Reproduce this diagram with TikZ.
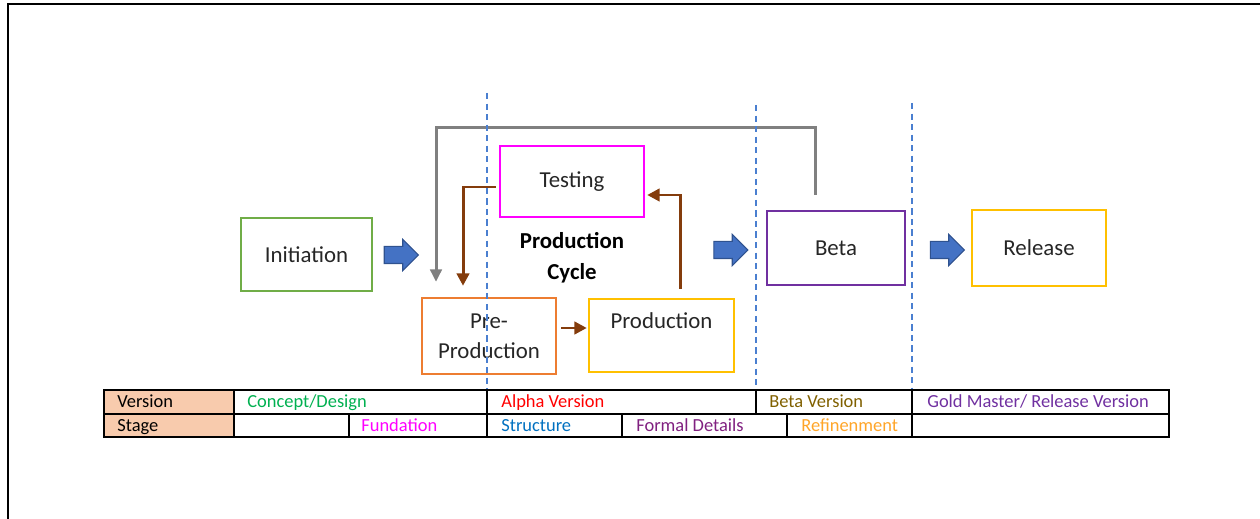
\documentclass[tikz,border=0pt]{standalone}
\usepackage{fontspec}
\setmainfont{Carlito}
\usetikzlibrary{calc,shapes.arrows,arrows.meta}
\definecolor{initgreen}{HTML}{70AD47}
\definecolor{testpink}{HTML}{FF00FF}
\definecolor{preorange}{HTML}{ED7D31}
\definecolor{prodgold}{HTML}{FFC000}
\definecolor{betapurple}{HTML}{7030A0}
\definecolor{loopbrown}{HTML}{843C0C}
\definecolor{loopgray}{HTML}{808080}
\definecolor{flowblue}{HTML}{4472C4}
\definecolor{flowedge}{HTML}{2F528F}
\definecolor{divblue}{HTML}{4A7FD0}
\definecolor{peach}{HTML}{F8CBAD}
\definecolor{txtgray}{HTML}{262626}

\begin{document}
\begin{tikzpicture}[x=0.02cm,y=-0.02cm,
  phase/.style={draw,line width=1.4pt,inner sep=0pt,text=txtgray,align=center,
    font=\fontsize{13}{17}\selectfont},
  flow/.style={single arrow,draw=flowedge,fill=flowblue,line width=0.6pt,
    inner xsep=0pt,inner ysep=0.16cm,text height=0pt,text depth=0pt,
    minimum height=0.68cm,single arrow head extend=0.14cm},
  brownloop/.style={draw=loopbrown,line width=1.7pt,-{Triangle[length=7pt,width=7pt]}},
  grayloop/.style={draw=loopgray,line width=1.7pt,-{Triangle[length=7pt,width=6.5pt]}},
  divider/.style={draw=divblue,line width=0.6pt,dash pattern=on 3.5pt off 2.5pt},
  tabline/.style={draw=black,line width=0.6pt},
  cell/.style={anchor=base west,inner sep=0pt,font=\fontsize{10.5}{12}\selectfont}]
  \useasboundingbox (0,0) rectangle (1260,519);
  % frame
  \draw[line width=1.2pt] (8,519) -- (8,4) -- (1260,4);

  % stages
  \draw(306.5,254.5) node[phase,draw=initgreen,minimum width=2.62cm,minimum height=1.46cm] (Init) {Initiation};
  \draw(572,181.5) node[phase,draw=testpink,minimum width=2.88cm,minimum height=1.42cm] (Testing) {Testing};
  \draw(489,336) node[phase,draw=preorange,minimum width=2.68cm,minimum height=1.52cm] (PreProd) {Pre-\\Production};
  \draw(661.5,335.5) node[phase,draw=prodgold,minimum width=2.9cm,minimum height=1.46cm] (Production) {Production\\~};
  \draw(836,248) node[phase,draw=betapurple,minimum width=2.76cm,minimum height=1.48cm] (Beta) {Beta};
  \draw(1039,248) node[phase,draw=prodgold,minimum width=2.68cm,minimum height=1.52cm] (Release) {Release};
  \draw(572,258) node[align=center,font=\bfseries\fontsize{13}{17.6}\selectfont] (Cycle) {Production\\Cycle};

  % block arrows
  \draw(397,255) node[flow] (FlowA) {};
  \draw(726.5,250) node[flow] (FlowB) {};
  \draw(943,250) node[flow] (FlowC) {};

  % loops
  \draw[grayloop] ($(Beta.north)+(-21,-15)$) |- (436,128) -- ($(PreProd.north)+(-53,-15)$);
  \draw[brownloop] ($(Testing.west)+(-3,5.5)$) -| ($(PreProd.north)+(-26,-11)$);
  \draw[brownloop] ($(Production.north)+(18.5,-9)$) |- ($(Testing.east)+(2,13.5)$);
  \draw[brownloop] ($(PreProd.east)+(4,-8)$) -- ($(Production.west)+(-1,-7.5)$);

  % phase dividers
  \foreach \x/\y in {487/93,756/105,912/103}
    \draw[divider] (\x,\y) -- (\x,390);

  % table
  \fill[peach] (104,390) rectangle (234,437);
  \draw[tabline] (104,390) rectangle (1169,437);
  \draw[tabline] (104,414) -- (1169,414);
  \foreach \x in {234,487,756,912}
    \draw[tabline] (\x,390) -- (\x,414);
  \foreach \x in {234,349,487,622,787,912}
    \draw[tabline] (\x,414) -- (\x,437);
  \draw(117,408) node[cell] (Version) {Version};
  \draw(247,408) node[cell,text={rgb,255:red,0;green,176;blue,80}] (Concept) {Concept/Design};
  \draw(501,408) node[cell,text=red] (Alpha) {Alpha Version};
  \draw(769,408) node[cell,text={rgb,255:red,128;green,96;blue,0}] (BetaV) {Beta Version};
  \draw(927,408) node[cell,text=betapurple] (Gold) {Gold Master/ Release Version};
  \draw(117,432) node[cell] (Stage) {Stage};
  \draw(361,432) node[cell,text=testpink] (Fund) {Fundation};
  \draw(501,432) node[cell,text={rgb,255:red,0;green,112;blue,192}] (Struct) {Structure};
  \draw(636,432) node[cell,text={rgb,255:red,128;green,32;blue,128}] (Formal) {Formal Details};
  \draw(801,432) node[cell,text={rgb,255:red,255;green,165;blue,40}] (Refine) {Refinenment};
\end{tikzpicture}
\end{document}
